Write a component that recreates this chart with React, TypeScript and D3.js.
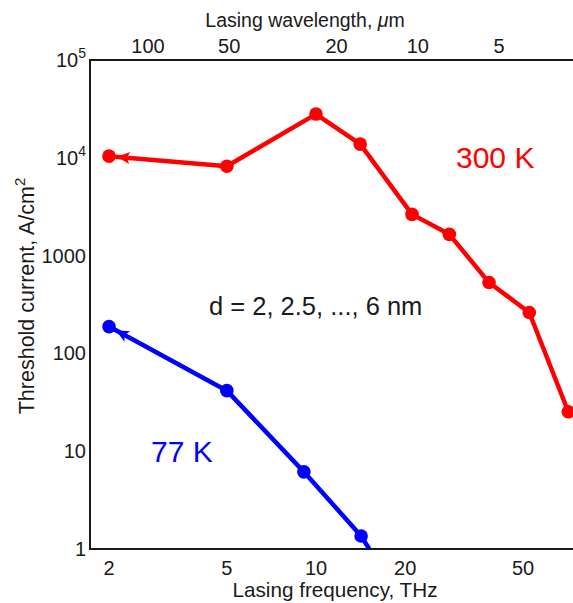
import React from "react";
import * as d3 from "d3";

const freqTicks = [2, 5, 10, 20, 50];
const waveTicks = [100, 50, 20, 10, 5];
const yTicks = [1, 10, 100, 1000, 1e4, 1e5];
const yTickBase = ["1", "10", "100", "1000", "10", "10"];
const yTickSup = ["", "", "", "", "4", "5"];

const redFreq = [2, 5, 10, 14.1, 21.1, 28.2, 38.4, 52.5, 71.1];
const redJ = [10400, 8200, 28000, 13800, 2640, 1650, 530, 262, 25.3];
const blueFreq = [2, 5, 9.1, 14.2];
const blueJ = [188, 41.6, 6.15, 1.36];
const blueTailFreq = [16.3];
const blueTailJ = [0.7];

const W = 573;
const H = 603;
const FONT = "'Liberation Sans', Arial, sans-serif";
const TXT = "#1a1a1a";

export default function App() {
  const x = d3.scaleLog().domain([2, 50]).range([109, 523]);
  const xTop = d3.scaleLog().domain([100, 5]).range([148, 499]);
  const y = d3.scaleLog().domain([1, 1e5]).range([549, 60]);
  const left = 90;
  const top = y(1e5);
  const bottom = y(1);
  const line = d3
    .line<[number, number]>()
    .x((d) => x(d[0]))
    .y((d) => y(d[1]));

  const redPts: [number, number][] = redFreq.map((f, i) => [f, redJ[i]]);
  const bluePts: [number, number][] = blueFreq.map((f, i) => [f, blueJ[i]]);
  const blueLinePts: [number, number][] = bluePts.concat(
    blueTailFreq.map((f, i) => [f, blueTailJ[i]] as [number, number])
  );

  const r = 6.8;
  const arrow = (pts: [number, number][], color: string) => {
    const p1 = [x(pts[0][0]), y(pts[0][1])];
    const p2 = [x(pts[1][0]), y(pts[1][1])];
    const dx = p2[0] - p1[0];
    const dy = p2[1] - p1[1];
    const len = Math.hypot(dx, dy);
    const ux = dx / len;
    const uy = dy / len;
    const tip = [p1[0] + ux * (r + 1), p1[1] + uy * (r + 1)];
    const base = [tip[0] + ux * 13, tip[1] + uy * 13];
    const hw = 6;
    const a = [base[0] - uy * hw, base[1] + ux * hw];
    const b = [base[0] + uy * hw, base[1] - ux * hw];
    const notch = [tip[0] + ux * 10, tip[1] + uy * 10];
    return (
      <path
        d={`M${tip[0]},${tip[1]}L${a[0]},${a[1]}L${notch[0]},${notch[1]}L${b[0]},${b[1]}Z`}
        fill={color}
      />
    );
  };

  return (
    <svg
      width={W}
      height={H}
      style={{ position: "absolute", left: 0, top: 0, background: "#fff" }}
      fontFamily={FONT}
    >
      <defs>
        <clipPath id="plotClip">
          <rect x={left} y={top} width={W - left} height={bottom - top} />
        </clipPath>
      </defs>
      <rect x={0} y={0} width={W} height={H} fill="#fff" />

      {/* frame */}
      <path
        d={`M${W},${top}H${left}V${bottom}H${W}`}
        fill="none"
        stroke={TXT}
        strokeWidth={2}
      />

      {/* y tick labels */}
      {yTicks.map((t, i) => (
        <text
          key={"y" + i}
          x={86}
          y={y(t) + 7}
          textAnchor="end"
          fontSize={20}
          fill={TXT}
        >
          {yTickBase[i]}
          {yTickSup[i] && (
            <tspan fontSize={14} dy={-9}>
              {yTickSup[i]}
            </tspan>
          )}
        </text>
      ))}

      {/* bottom tick labels */}
      {freqTicks.map((t) => (
        <text
          key={"x" + t}
          x={x(t)}
          y={575}
          textAnchor="middle"
          fontSize={20}
          fill={TXT}
        >
          {t}
        </text>
      ))}
      <text x={335} y={597} textAnchor="middle" fontSize={20.7} fill={TXT}>
        Lasing frequency, THz
      </text>

      {/* top tick labels */}
      {waveTicks.map((t) => (
        <text
          key={"w" + t}
          x={xTop(t)}
          y={53}
          textAnchor="middle"
          fontSize={20}
          fill={TXT}
        >
          {t}
        </text>
      ))}
      <text x={305} y={27} textAnchor="middle" fontSize={19.5} fill={TXT}>
        Lasing wavelength, <tspan fontStyle="italic">μ</tspan>m
      </text>

      {/* y title */}
      <text
        transform={`translate(34,${296}) rotate(-90)`}
        textAnchor="middle"
        fontSize={21.5}
        fill={TXT}
      >
        Threshold current, A/cm
        <tspan fontSize={15} dy={-9}>
          2
        </tspan>
      </text>

      {/* series */}
      <g clipPath="url(#plotClip)">
        <path
          d={line(blueLinePts) || ""}
          fill="none"
          stroke="#0000ff"
          strokeWidth={4.5}
          strokeLinejoin="round"
        />
        {bluePts.map((p, i) => (
          <circle key={"b" + i} cx={x(p[0])} cy={y(p[1])} r={r} fill="#0000ff" />
        ))}
        {arrow(bluePts, "#0000ff")}

        <path
          d={line(redPts) || ""}
          fill="none"
          stroke="#ff0000"
          strokeWidth={4.5}
          strokeLinejoin="round"
        />
        {redPts.map((p, i) => (
          <circle key={"r" + i} cx={x(p[0])} cy={y(p[1])} r={r} fill="#ff0000" />
        ))}
        {arrow(redPts, "#ff0000")}
      </g>

      {/* annotations */}
      <text x={456} y={168} fontSize={30} fill="#ff0000">
        300 K
      </text>
      <text x={151} y={462} fontSize={30} fill="#0000ff">
        77 K
      </text>
      <text x={209} y={315} fontSize={25.5} fill={TXT}>
        d = 2, 2.5, ..., 6 nm
      </text>
    </svg>
  );
}
